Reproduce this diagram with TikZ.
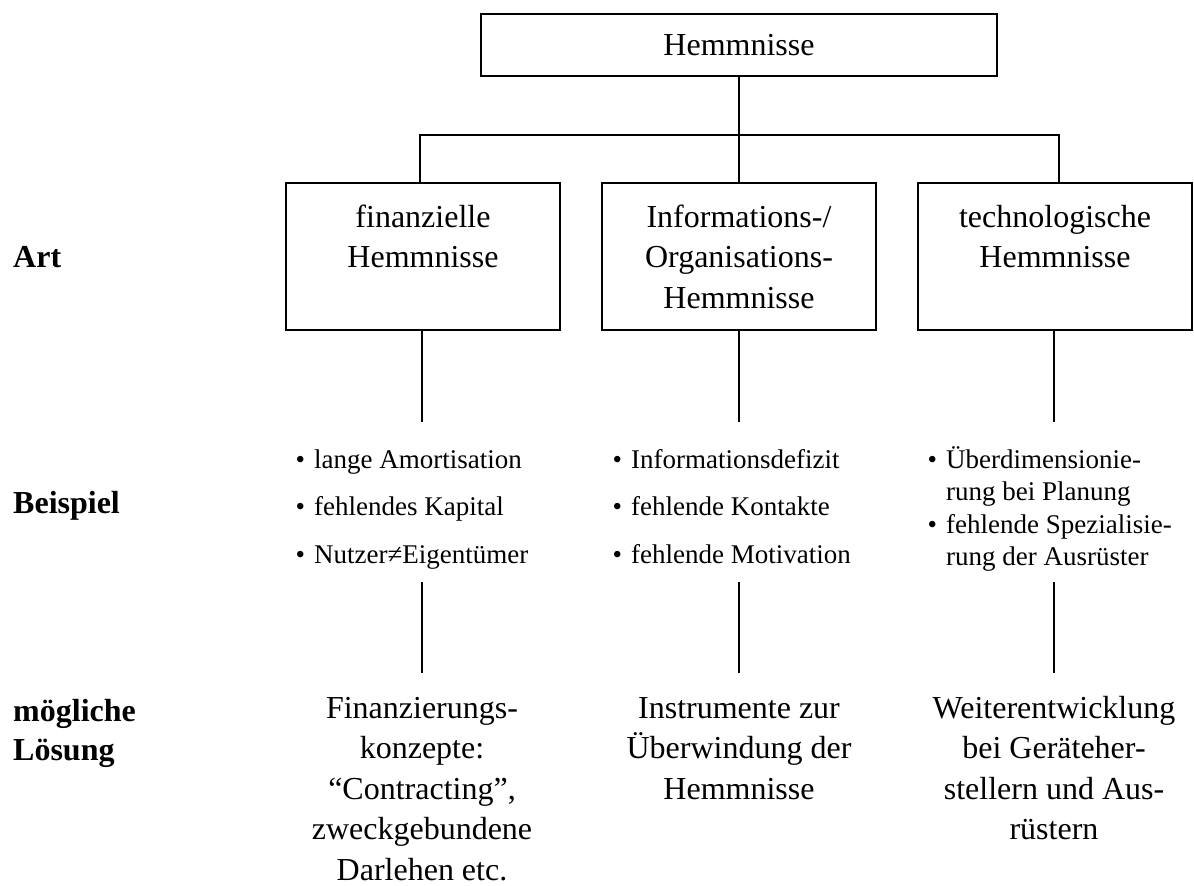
\documentclass[tikz,border=0pt]{standalone}
\usepackage{fontspec}
\setmainfont{Liberation Serif}
% bullet with its gap, and an invisible one for hanging lines
\newcommand\itembul{•\hspace{0.33em}}
\newcommand\itemgap{\hphantom{\itembul}}
\begin{document}
\begin{tikzpicture}[x=1pt,y=-1pt,
  conn/.style={line width=2pt},
  hbox/.style={draw, line width=2pt, minimum width=274pt, minimum height=147pt, inner sep=0pt},
  boxtext/.style={anchor=base, align=center, inner sep=0pt, font=\fontsize{32}{40.5}\selectfont},
  rowlabel/.style={anchor=base west, align=left, inner sep=0pt, font=\bfseries\fontsize{32}{39}\selectfont},
  examples/.style={anchor=base west, align=left, inner sep=0pt, font=\fontsize{27}{47.5}\selectfont},
  examplestight/.style={anchor=base west, align=left, inner sep=0pt, font=\fontsize{27}{32.5}\selectfont},
  solution/.style={anchor=base, align=center, inner sep=0pt, font=\fontsize{32}{40.5}\selectfont}
]
\useasboundingbox (0,0) rectangle (1194,886);

% root box
\node[draw, line width=2pt, minimum width=516pt, minimum height=62pt, inner sep=0pt,
      font=\fontsize{32}{40}\selectfont] (top) at (739,45) {Hemmnisse};

% three category boxes and their captions (multi-line nodes sit on their last baseline)
\node[hbox] (b1) at (423,256.5) {};
\node[hbox] (b2) at (739,256.5) {};
\node[hbox] (b3) at (1055,256.5) {};
\node[boxtext] (t1) at (423,267.5) {finanzielle\\Hemmnisse};
\node[boxtext] (t2) at (739,308) {Informations-/\\Organisations-\\Hemmnisse};
\node[boxtext] (t3) at (1055,267.5) {technologische\\Hemmnisse};

% row labels on the left
\node[rowlabel] (lart) at (13,267) {Art};
\node[rowlabel] (lbsp) at (13,513) {Beispiel};
\node[rowlabel] (llsg) at (13,760) {mögliche\\Lösung};

% examples
\node[examples] (ex1) at (295.5,563) {\itembul lange Amortisation\\\itembul fehlendes Kapital\\\itembul Nutzer≠Eigentümer};
\node[examples] (ex2) at (612.5,563) {\itembul Informationsdefizit\\\itembul fehlende Kontakte\\\itembul fehlende Motivation};
\node[examplestight] (ex3) at (927.5,565.5) {\itembul Überdimensionie-\\\itemgap rung bei Planung\\\itembul fehlende Spezialisie-\\\itemgap rung der Ausrüster};

% possible solutions
\node[solution] (s1) at (422,880) {Finanzierungs-\\konzepte:\\“Contracting”,\\zweckgebundene\\Darlehen etc.};
\node[solution] (s2) at (739,799) {Instrumente zur\\Überwindung der\\Hemmnisse};
\node[solution] (s3) at (1054,839.5) {Weiterentwicklung\\bei Geräteher-\\stellern und Aus-\\rüstern};

% tree connectors
\coordinate (barL) at (420,135);
\coordinate (barM) at (739,135);
\coordinate (barR) at (1059,135);
\draw[conn] (top.south) -- (barM);
\draw[conn] (barL |- b1.north) -- (barL) -- (barR) -- (barR |- b3.north);
\draw[conn] (barM) -- (b2.north);

% column connectors below the boxes
\coordinate (u1) at (422,422);  \coordinate (m1) at (422,582);  \coordinate (d1) at (422,673);
\coordinate (u2) at (739,422);  \coordinate (m2) at (739,582);  \coordinate (d2) at (739,673);
\coordinate (u3) at (1054,422); \coordinate (m3) at (1054,582); \coordinate (d3) at (1054,673);
\draw[conn] (b1.south -| u1) -- (u1);
\draw[conn] (m1) -- (d1);
\draw[conn] (b2.south -| u2) -- (u2);
\draw[conn] (m2) -- (d2);
\draw[conn] (b3.south -| u3) -- (u3);
\draw[conn] (m3) -- (d3);
\end{tikzpicture}
\end{document}
